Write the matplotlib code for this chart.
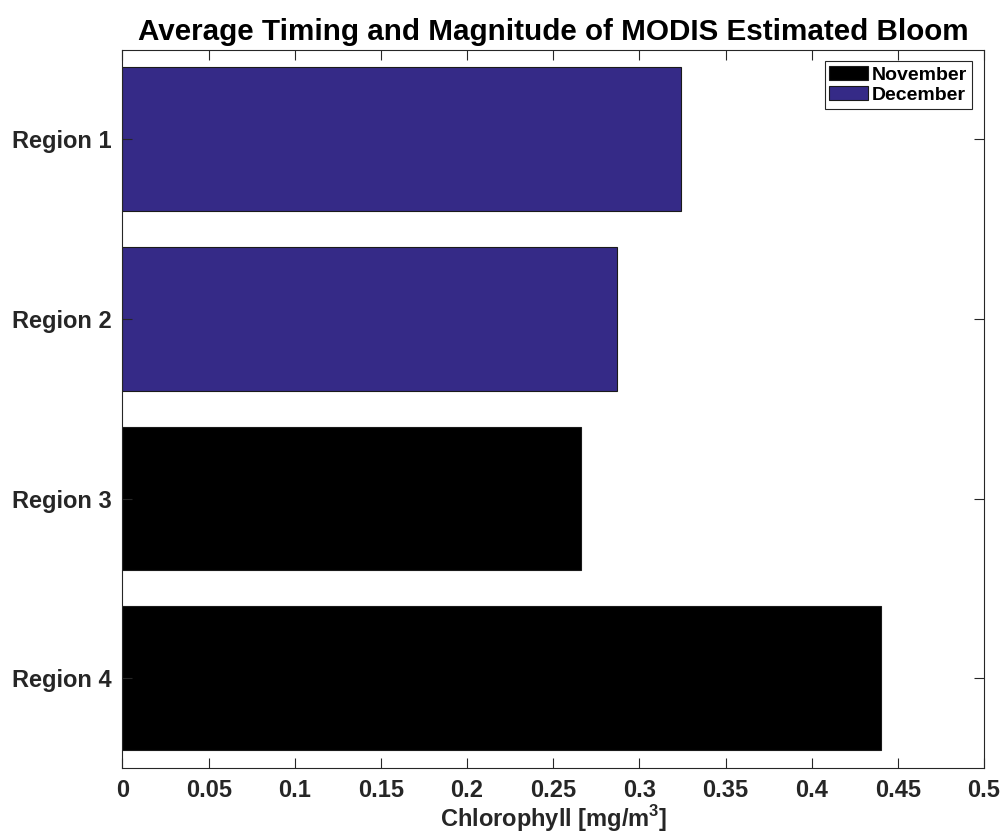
import matplotlib.pyplot as plt
from matplotlib.patches import Patch

plt.rcParams['font.family'] = 'Liberation Sans'
plt.rcParams['font.weight'] = 'bold'
plt.rcParams['mathtext.fontset'] = 'custom'
plt.rcParams['mathtext.rm'] = 'Liberation Sans:bold'
plt.rcParams['mathtext.bf'] = 'Liberation Sans:bold'

# data
regions = ['Region 1', 'Region 2', 'Region 3', 'Region 4']
chlorophyll = [0.324, 0.287, 0.266, 0.440]
bloom_month = ['December', 'December', 'November', 'November']
month_colors = {'November': '#000000', 'December': '#352A87'}
xticks = [0, 0.05, 0.1, 0.15, 0.2, 0.25, 0.3, 0.35, 0.4, 0.45, 0.5]

txt = '#262626'

fig = plt.figure(figsize=(10.03, 8.34), dpi=100)
ax = fig.add_axes([122.5 / 1003, 1 - 768 / 834, (984 - 122.5) / 1003, (768 - 49.5) / 834])

pos = list(range(1, len(regions) + 1))
ax.barh(pos, chlorophyll, height=0.8,
        color=[month_colors[m] for m in bloom_month],
        edgecolor='#1a1a1a', linewidth=0.8)

ax.set_xlim(0, 0.5)
ax.set_ylim(4.5, 0.5)
ax.set_xticks(xticks)
ax.set_xticklabels([f'{v:g}' for v in xticks])
ax.set_yticks(pos)
ax.set_yticklabels(regions)

ax.tick_params(axis='both', direction='in', length=7, width=0.8, colors=txt,
               labelsize=17, top=True, right=True, pad=8)
for sp in ax.spines.values():
    sp.set_color(txt)
    sp.set_linewidth(0.8)

ax.set_xlabel(r'Chlorophyll [mg/m$^{3}$]', fontsize=17, fontweight='bold',
              color=txt, labelpad=1)
ax.set_title('Average Timing and Magnitude of MODIS Estimated Bloom',
             fontsize=21.3, fontweight='bold', color='black', pad=7)

handles = [Patch(facecolor=month_colors[m], edgecolor='#1a1a1a', linewidth=0.8, label=m)
           for m in ['November', 'December']]
leg = ax.legend(handles=handles, loc='upper right', fontsize=14, handlelength=2.0,
                handleheight=0.75, handletextpad=0.2, labelspacing=0.1,
                borderpad=0.25, borderaxespad=0.6, fancybox=False, framealpha=1)
leg.get_frame().set_edgecolor(txt)
leg.get_frame().set_linewidth(0.8)
for t in leg.get_texts():
    t.set_color('black')

fig.savefig('out.png', dpi=100)
